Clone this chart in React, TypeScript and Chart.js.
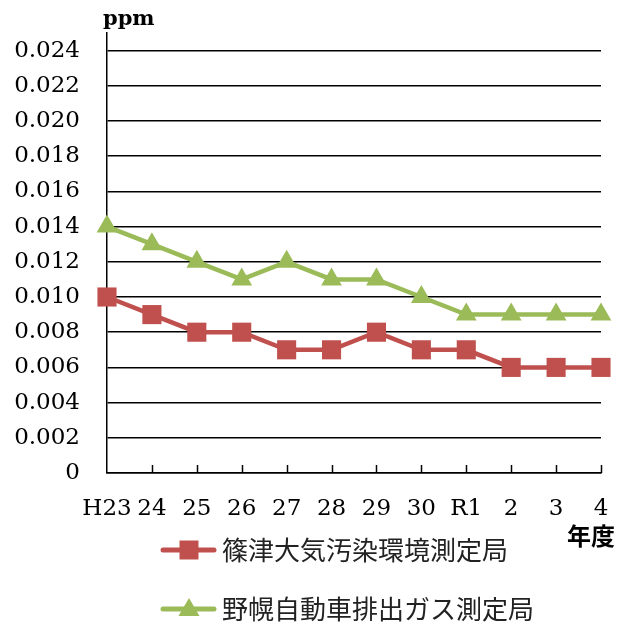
import React, { useEffect, useRef } from 'react';
import { Chart, registerables } from 'chart.js';

Chart.register(...registerables);

// Fiscal years (Heisei 23 … Reiwa 4)
const years = ['H23', '24', '25', '26', '27', '28', '29', '30', 'R1', '2', '3', '4'];
// Annual means, ppm
const shinotsu = [0.010, 0.009, 0.008, 0.008, 0.007, 0.007, 0.008, 0.007, 0.007, 0.006, 0.006, 0.006];
const nopporo = [0.014, 0.013, 0.012, 0.011, 0.012, 0.011, 0.011, 0.010, 0.009, 0.009, 0.009, 0.009];
const seriesNames = ['篠津大気汚染環境測定局', '野幌自動車排出ガス測定局'];
const seriesColors = ['#C0504D', '#9BBB59'];
const yTicks = [0, 0.002, 0.004, 0.006, 0.008, 0.010, 0.012, 0.014, 0.016, 0.018, 0.020, 0.022, 0.024];
const unitLabel = 'ppm';
const xUnitLabel = '年度';

const SERIF = '"DejaVu Serif", serif';
const CJK = '"Noto Sans CJK JP", sans-serif';

function drawMarker(ctx: CanvasRenderingContext2D, style: string, x: number, y: number, color: string) {
  ctx.fillStyle = color;
  ctx.beginPath();
  if (style === 'rect') {
    ctx.rect(x - 9.5, y - 9.5, 19, 19);
  } else {
    ctx.moveTo(x, y - 11);
    ctx.lineTo(x + 10.5, y + 7);
    ctx.lineTo(x - 10.5, y + 7);
    ctx.closePath();
  }
  ctx.fill();
}

const decorations = {
  id: 'decorations',
  beforeDatasetsDraw(chart: any) {
    const { ctx, chartArea, scales } = chart;
    const x = scales.x;
    ctx.save();
    ctx.strokeStyle = '#000';
    ctx.lineWidth = 1.5;
    // inward tick marks on the category axis
    for (let i = 1; i < years.length; i++) {
      const px = Math.round(x.getPixelForValue(i)) + 0.5;
      ctx.beginPath();
      ctx.moveTo(px, chartArea.bottom);
      ctx.lineTo(px, chartArea.bottom - 8);
      ctx.stroke();
    }
    ctx.restore();
  },
  afterDraw(chart: any) {
    const { ctx, chartArea } = chart;
    ctx.save();
    // unit above the value axis
    ctx.fillStyle = '#000';
    ctx.font = `bold 21px ${SERIF}`;
    ctx.textAlign = 'left';
    ctx.textBaseline = 'alphabetic';
    ctx.fillText(unitLabel, chartArea.left - 4, 25);

    // unit under the category axis
    ctx.font = `bold 24px ${CJK}`;
    ctx.textAlign = 'right';
    ctx.textBaseline = 'middle';
    ctx.fillText(xUnitLabel, 615, 536);

    // legend: line + marker + name
    const styles = ['rect', 'triangle'];
    const rowsY = [550, 609];
    chart.data.datasets.forEach((ds: any, i: number) => {
      const y = rowsY[i];
      ctx.strokeStyle = ds.borderColor;
      ctx.lineWidth = 5;
      ctx.lineCap = 'round';
      ctx.beginPath();
      ctx.moveTo(163, y);
      ctx.lineTo(214, y);
      ctx.stroke();
      drawMarker(ctx, styles[i], 189, y, ds.backgroundColor);
      ctx.fillStyle = '#222';
      ctx.font = `26px ${CJK}`;
      ctx.textAlign = 'left';
      ctx.textBaseline = 'middle';
      ctx.fillText(ds.label, 222, y);
    });
    ctx.restore();
  },
};

export default function App() {
  const canvasRef = useRef<HTMLCanvasElement | null>(null);

  useEffect(() => {
    document.body.style.margin = '0';
    const canvas = canvasRef.current;
    if (!canvas) return;
    const chart = new Chart(canvas, {
      type: 'line',
      data: {
        labels: years,
        datasets: [
          {
            label: seriesNames[0],
            data: shinotsu,
            borderColor: seriesColors[0],
            backgroundColor: seriesColors[0],
            borderWidth: 4.5,
            pointStyle: 'rect',
            pointRadius: 13.5,
            pointHoverRadius: 13.5,
            pointBorderWidth: 0,
            tension: 0,
            clip: false as any,
          },
          {
            label: seriesNames[1],
            data: nopporo,
            borderColor: seriesColors[1],
            backgroundColor: seriesColors[1],
            borderWidth: 4.5,
            pointStyle: 'triangle',
            pointRadius: 12,
            pointHoverRadius: 12,
            pointBorderWidth: 0,
            tension: 0,
            clip: false as any,
          },
        ],
      },
      options: {
        responsive: false,
        animation: false,
        layout: { padding: { top: 33, right: 32, left: 0, bottom: 0 } },
        plugins: {
          legend: { display: false },
          tooltip: { enabled: false },
        },
        scales: {
          x: {
            offset: false,
            grid: { display: false, drawTicks: false },
            border: { display: true, color: '#000', width: 1.5 },
            ticks: {
              color: '#000',
              font: { family: SERIF, size: 23 },
              padding: 22,
              maxRotation: 0,
              autoSkip: false,
            },
            afterFit: (scale: any) => {
              scale.height = 153;
            },
          },
          y: {
            min: 0,
            max: 0.025,
            afterBuildTicks: (scale: any) => {
              scale.ticks = yTicks.map((v) => ({ value: v }));
            },
            grid: { color: '#000', lineWidth: 1.5, drawTicks: false },
            border: { display: true, color: '#000', width: 1.5 },
            ticks: {
              color: '#000',
              font: { family: SERIF, size: 23 },
              padding: 27,
              callback: (v: any) => (Number(v) === 0 ? '0' : Number(v).toFixed(3)),
            },
            afterFit: (scale: any) => {
              scale.width = 107;
              scale.paddingTop = 0;
              scale.paddingBottom = 0;
            },
          },
        },
      },
      plugins: [decorations],
    });
    return () => chart.destroy();
  }, []);

  return (
    <div style={{ width: 633, height: 626 }}>
      <canvas ref={canvasRef} width={633} height={626} />
    </div>
  );
}
